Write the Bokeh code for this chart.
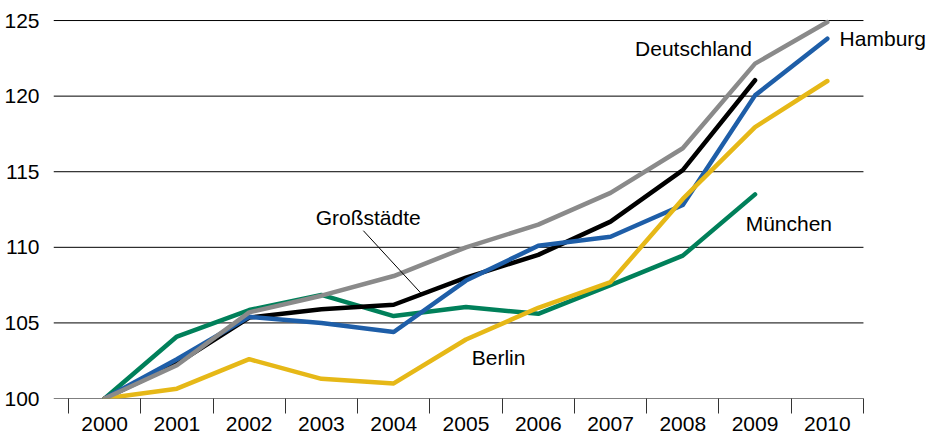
from bokeh.plotting import figure
from bokeh.models import FixedTicker, Label, Range1d
from bokeh.embed import file_html
from bokeh.resources import INLINE

years = [2000, 2001, 2002, 2003, 2004, 2005, 2006, 2007, 2008, 2009, 2010]
deutschland = [100, 102.2, 105.7, 106.8, 108.1, 110.0, 111.5, 113.6, 116.55, 122.15, 124.9]
grossstaedte = [100, 102.3, 105.35, 105.9, 106.2, 108.0, 109.5, 111.7, 115.1, 121.05]
hamburg = [100, 102.6, 105.4, 105.0, 104.4, 107.8, 110.1, 110.7, 112.8, 120.05, 123.8]
berlin = [100, 100.65, 102.6, 101.3, 101.0, 103.9, 106.0, 107.7, 113.2, 117.95, 121.0]
muenchen = [100, 104.1, 105.85, 106.85, 105.45, 106.05, 105.6, 107.5, 109.45, 113.5]

y_ticks = [100, 105, 110, 115, 120, 125]

FONT = "Liberation Sans"
FS = "21px"

X_START = 1999.2924
X_AXIS_END = years[-1] + 0.5
X_END = 2011.40
Y_START = 100
Y_END = 126.325

p = figure(width=928, height=436, output_backend="svg", toolbar_location=None,
           x_range=Range1d(X_START, X_END), y_range=Range1d(Y_START, Y_END),
           min_border_left=53, min_border_right=0, min_border_top=0, min_border_bottom=38)
p.outline_line_color = None
p.background_fill_color = "white"

# horizontal grid lines and base line (ending at the last category boundary)
p.xgrid.visible = False
p.ygrid.visible = False
p.segment(x0=[X_START] * len(y_ticks), y0=y_ticks, x1=[X_AXIS_END] * len(y_ticks), y1=y_ticks,
          line_color="black", line_width=1)

# y axis
p.yaxis.ticker = FixedTicker(ticks=y_ticks)
p.yaxis.axis_line_color = None
p.yaxis.major_tick_line_color = None
p.yaxis.minor_tick_line_color = None
p.yaxis.major_label_standoff = 8
p.yaxis.major_label_text_font = FONT
p.yaxis.major_label_text_font_size = FS
p.yaxis.major_label_text_color = "black"

# x axis
p.xaxis.ticker = FixedTicker(ticks=years, minor_ticks=[y - 0.5 for y in years] + [X_AXIS_END])
p.xaxis.axis_line_color = None
p.xaxis.major_tick_out = 0
p.xaxis.major_tick_in = 0
p.xaxis.major_tick_line_color = None
p.xaxis.minor_tick_out = 15
p.xaxis.minor_tick_in = 0
p.xaxis.minor_tick_line_color = "#333333"
p.xaxis.minor_tick_line_width = 1
p.xaxis.major_label_standoff = 3
p.xaxis.major_label_text_font = FONT
p.xaxis.major_label_text_font_size = FS
p.xaxis.major_label_text_color = "black"

LW = 4.5
kw = dict(line_width=LW, line_join="round", line_cap="round")
p.line(years[:len(muenchen)], muenchen, line_color="#00805a", **kw)
p.line(years[:len(grossstaedte)], grossstaedte, line_color="black", **kw)
p.line(years, hamburg, line_color="#1e5ea8", **kw)
p.line(years, berlin, line_color="#e6b817", **kw)
p.line(years, deutschland, line_color="#8a8a8a", **kw)

# pointer for Großstädte
p.segment(x0=[2003.58], y0=[111.1], x1=[2004.38], y1=[106.95], line_color="black", line_width=1)

def lab(x, y, t):
    p.add_layout(Label(x=x, y=y, text=t, text_font=FONT, text_font_size=FS,
                       text_baseline="middle", text_align="left", text_color="black"))

lab(2007.34, 123.18, "Deutschland")
lab(2010.17, 123.84, "Hamburg")
lab(2002.92, 111.97, "Großstädte")
lab(2005.08, 102.71, "Berlin")
lab(2008.87, 111.56, "München")

open("out.html", "w").write(file_html(p, INLINE))
